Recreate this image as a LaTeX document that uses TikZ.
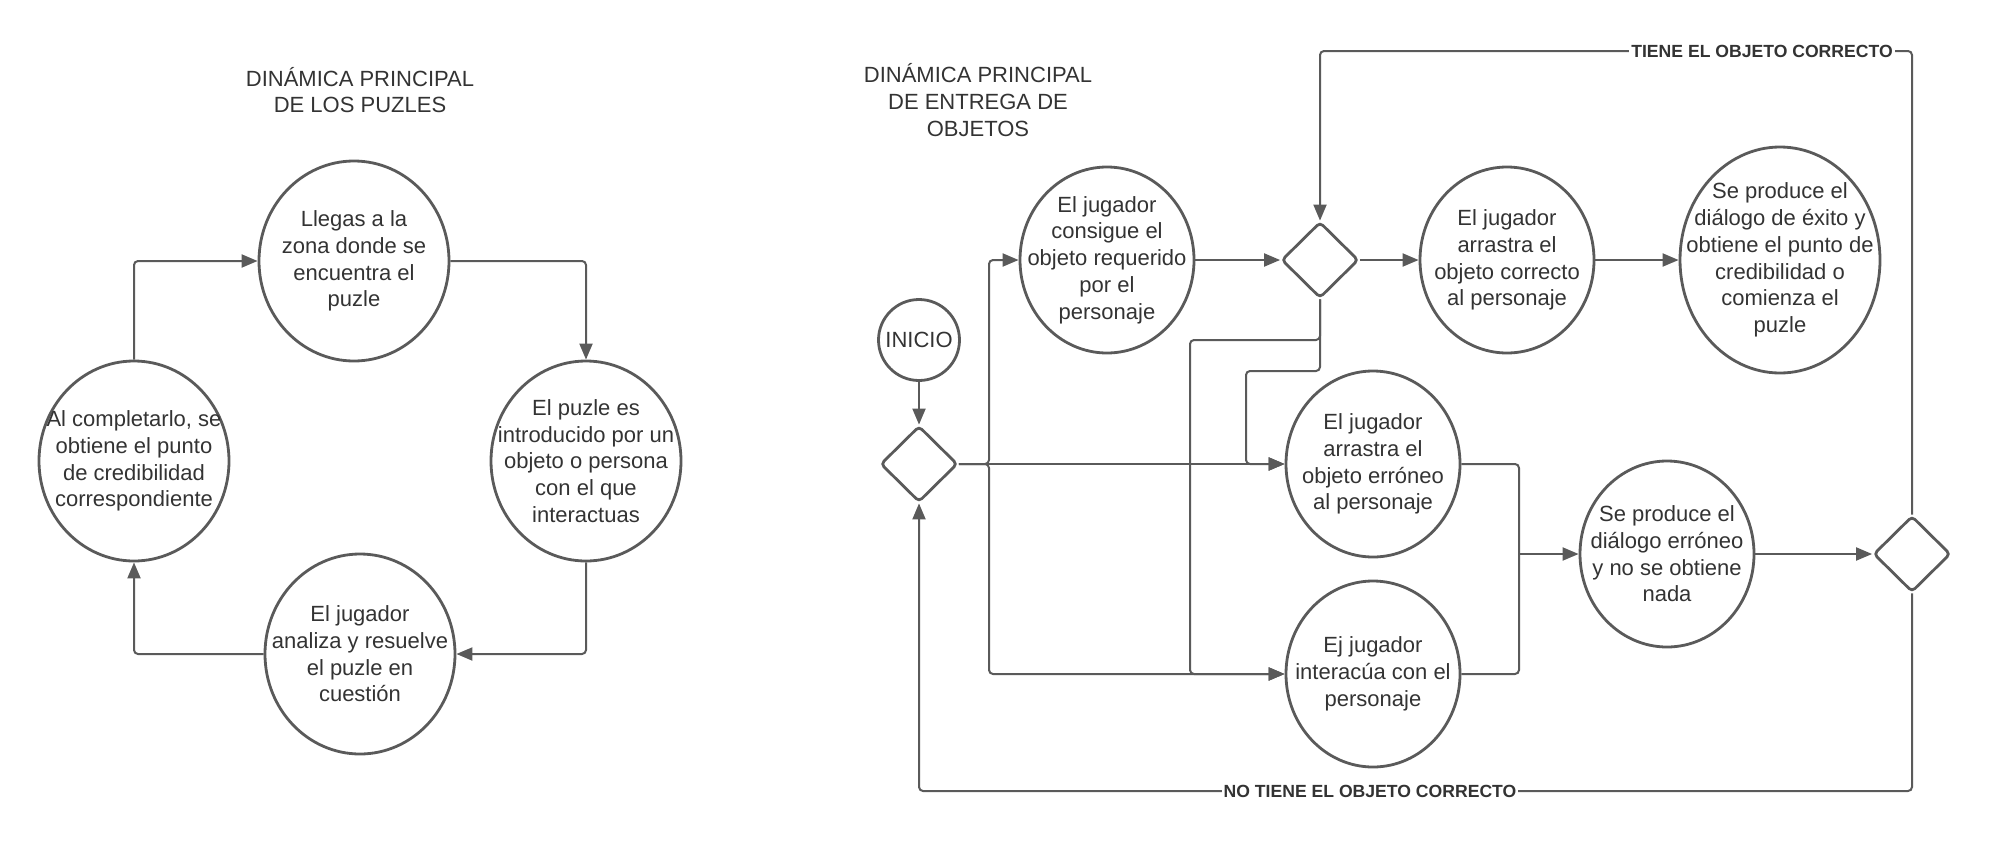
\documentclass[tikz,border=0pt]{standalone}
\usepackage{fontspec}
\setmainfont{Liberation Sans}
\usetikzlibrary{shapes.geometric,arrows.meta}
\definecolor{linegray}{HTML}{5A5A5A}
\definecolor{textgray}{HTML}{333333}
\begin{document}
\begin{tikzpicture}[x=0.5pt,y=-0.5pt,
    every node/.style={text=textgray,font=\fontsize{11}{13.35}\selectfont},
    bubble/.style={ellipse,draw=linegray,line width=1.4pt,align=center,inner sep=-12pt},
    bigbubble/.style={bubble,minimum width=95pt,minimum height=100pt},
    midbubble/.style={bubble,minimum width=87pt,minimum height=93pt},
    decision/.style={diamond,draw=linegray,line width=1.4pt,rounded corners=2pt,inner sep=0pt,minimum width=38.5pt,minimum height=38pt},
    startnode/.style={circle,draw=linegray,line width=1.4pt,inner sep=0pt,minimum size=40.5pt},
    heading/.style={align=center},
    tag/.style={fill=white,inner xsep=1pt,inner ysep=1pt,font=\fontsize{8.8}{10}\selectfont\bfseries},
    flow/.style={draw=linegray,line width=1pt,rounded corners=2pt,-{Triangle[length=8pt,width=6.5pt]}},
    branch/.style={draw=linegray,line width=1pt,rounded corners=2pt}]
    \useasboundingbox (0,0) rectangle (1992,841);

    \node[heading] (tit-puzles) at (360,90) {DINÁMICA PRINCIPAL\\DE LOS PUZLES};
    \node[bigbubble] (llegas) at (354,261) {Llegas a la\\zona donde se\\encuentra el\\puzle};
    \node[bigbubble] (introducido) at (586,461) {El puzle es\\introducido por un\\objeto o persona\\con el que\\interactuas};
    \node[bigbubble] (analiza) at (360,654) {El jugador\\analiza y resuelve\\el puzle en\\cuestión};
    \node[bigbubble] (completar) at (134,461) {Al completarlo, se\\obtiene el punto\\de credibilidad\\correspondiente};

    \draw[flow] (llegas.east) -| (introducido.north);
    \draw[flow] (introducido.south) |- (analiza.east);
    \draw[flow] (analiza.west) -| (completar.south);
    \draw[flow] (completar.north) |- (llegas.west);

    \node[heading] (tit-entrega) at (978,100) {DINÁMICA PRINCIPAL\\DE ENTREGA DE\\OBJETOS};
    \node[startnode] (inicio) at (919,340) {INICIO};
    \node[decision] (dec1) at (919,464) {};
    \node[midbubble] (consigue) at (1107,260) {El jugador\\consigue el\\objeto requerido\\por el\\personaje};
    \node[decision] (dec2) at (1320,260) {};
    \node[midbubble] (correcto) at (1507,260) {El jugador\\arrastra el\\objeto correcto\\al personaje};
    \node[bubble,minimum width=100pt,minimum height=113pt] (exito) at (1780,260) {Se produce el\\diálogo de éxito y\\obtiene el punto de\\credibilidad o\\comienza el\\puzle};
    \node[midbubble] (erroneo) at (1373,464) {El jugador\\arrastra el\\objeto erróneo\\al personaje};
    \node[midbubble] (interactua) at (1373,674) {Ej jugador\\interacúa con el\\personaje};
    \node[midbubble] (nada) at (1667,554) {Se produce el\\diálogo erróneo\\y no se obtiene\\nada};
    \node[decision] (dec3) at (1912,554) {};

    \coordinate (fork) at (989,464);
    \coordinate (bend-a) at (1190,340);
    \coordinate (bend-b) at (1246,371);
    \coordinate (merge) at (1519,554);
    \coordinate (ret-top) at (1320,51);
    \coordinate (ret-bot) at (919,791);

    \draw[flow] (inicio) -- (dec1);
    \draw[flow] (dec1.east) -- (fork) |- (consigue.west);
    \draw[flow] (dec1.east) -- (erroneo.west);
    \draw[flow] (dec1.east) -- (fork) |- (interactua.west);
    \draw[flow] (consigue) -- (dec2);
    \draw[flow] (dec2) -- (correcto);
    \draw[flow] (correcto) -- (exito);
    \draw[flow] (dec2.south) |- (bend-a) |- (interactua.west);
    \draw[flow] (dec2.south) |- (bend-b) |- (erroneo.west);
    \draw[branch] (erroneo.east) -| (merge);
    \draw[branch] (interactua.east) -| (merge);
    \draw[flow] (merge) -- (nada.west);
    \draw[flow] (nada) -- (dec3);
    \draw[flow] (dec3.north) |- (ret-top) -- (dec2.north);
    \draw[flow] (dec3.south) |- (ret-bot) -- (dec1.south);

    \node[tag] (tiene) at (1762,51) {TIENE EL OBJETO CORRECTO};
    \node[tag] (notiene) at (1370,791) {NO TIENE EL OBJETO CORRECTO};
\end{tikzpicture}
\end{document}
